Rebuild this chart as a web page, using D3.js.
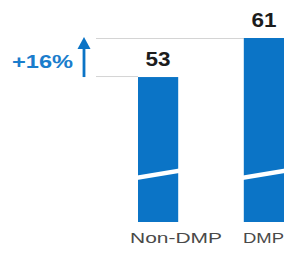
<!DOCTYPE html>
<html>
<head>
<meta charset="utf-8">
<script src="https://cdn.jsdelivr.net/npm/d3@7"></script>
<style>
html,body{margin:0;padding:0;background:#fff;}
svg{display:block;}
</style>
</head>
<body>
<svg id="chart"></svg>
<script>
// 数据
var categories=["Non-DMP","DMP"];
var values=[53,61];
var changeLabel="+16%";

var WIDTH=286,HEIGHT=256;
var BLUE="#0b74c6";
var AXIS_FLOOR=23.3;//纵轴截断 不从0开始

var svg=d3.select("#chart").attr("width",WIDTH).attr("height",HEIGHT);

var x=d3.scaleBand().domain(categories).range([138,284]).paddingInner(0.62).paddingOuter(0);
var y=d3.scaleLinear().domain([AXIS_FLOOR,d3.max(values)]).range([222,38]);

var data=categories.map(function(c,i){return {cat:c,val:values[i]};});

// 灰色参考线
var lo=data[0],hi=data[1];
svg.append("line")
    .attr("x1",96).attr("x2",x(hi.cat))
    .attr("y1",y(hi.val)+0.5).attr("y2",y(hi.val)+0.5)
    .attr("stroke","#d4d4d4").attr("stroke-width",1);
svg.append("line")
    .attr("x1",96).attr("x2",x(lo.cat))
    .attr("y1",y(lo.val)-0.5).attr("y2",y(lo.val)-0.5)
    .attr("stroke","#d4d4d4").attr("stroke-width",1);

// 柱子
svg.selectAll("rect.bar").data(data).enter().append("rect")
    .attr("class","bar")
    .attr("x",function(d){return x(d.cat)})
    .attr("y",function(d){return y(d.val)})
    .attr("width",x.bandwidth())
    .attr("height",function(d){return y(AXIS_FLOOR)-y(d.val)})
    .attr("fill",BLUE);

// 截断标记 斜白条
svg.selectAll("polygon.brk").data(data).enter().append("polygon")
    .attr("class","brk")
    .attr("fill","#fff")
    .attr("points",function(d){
        var x0=x(d.cat)-1,x1=x(d.cat)+x.bandwidth()+1;
        return [[x0,175.5],[x1,168.5],[x1,173],[x0,180]].join(" ");
    });

// 数值 (原图横向略拉伸)
svg.selectAll("text.val").data(data).enter().append("text")
    .attr("class","val")
    .attr("x",function(d){return x(d.cat)+x.bandwidth()/2})
    .attr("y",function(d){return y(d.val)-11})
    .attr("text-anchor","middle")
    .attr("font-family","Liberation Sans, Arial, sans-serif")
    .attr("font-weight","bold")
    .attr("font-size",20)
    .attr("textLength",25).attr("lengthAdjust","spacingAndGlyphs")
    .attr("fill","#1c1c1c")
    .text(function(d){return d.val});

// 分类标签
var labelCenter=[176,263.5],labelLen=[92,41];
svg.selectAll("text.cat").data(data).enter().append("text")
    .attr("class","cat")
    .attr("x",function(d,i){return labelCenter[i]})
    .attr("y",243)
    .attr("text-anchor","middle")
    .attr("font-family","Liberation Sans, Arial, sans-serif")
    .attr("font-size",15.5)
    .attr("textLength",function(d,i){return labelLen[i]}).attr("lengthAdjust","spacingAndGlyphs")
    .attr("fill","#4a4a4a")
    .text(function(d){return d.cat});

// 增幅箭头
var ax=84;
svg.append("line")
    .attr("x1",ax).attr("x2",ax)
    .attr("y1",y(lo.val)).attr("y2",y(hi.val)+8)
    .attr("stroke",BLUE).attr("stroke-width",2.8);
svg.append("path")
    .attr("d","M"+(ax-6.5)+","+(y(hi.val)+11)+"L"+ax+","+(y(hi.val)-1)+"L"+(ax+6.5)+","+(y(hi.val)+11)+"Z")
    .attr("fill",BLUE);
svg.append("text")
    .attr("x",12).attr("y",68)
    .attr("font-family","Liberation Sans, Arial, sans-serif")
    .attr("font-weight","bold")
    .attr("font-size",19)
    .attr("textLength",61).attr("lengthAdjust","spacingAndGlyphs")
    .attr("fill","#1a7dcc")
    .text(changeLabel);
</script>
</body>
</html>
